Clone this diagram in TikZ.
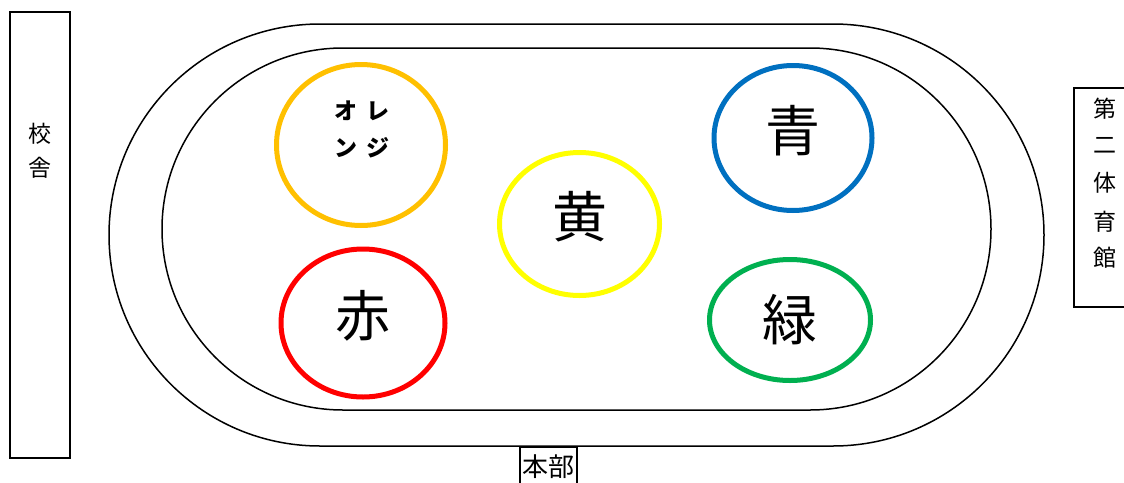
\documentclass[tikz,border=0pt]{standalone}
\usepackage{fontspec}
\newfontfamily\jp{Noto Sans CJK JP}
\usetikzlibrary{shapes.geometric}
\definecolor{cOrange}{HTML}{FFC000}
\definecolor{cYellow}{HTML}{FFFF00}
\definecolor{cBlue}{HTML}{0070C0}
\definecolor{cRed}{HTML}{FF0000}
\definecolor{cGreen}{HTML}{00B050}
\tikzset{
  track/.style={draw=black, line width=1.5pt},
  bldg/.style={draw=black, line width=1.6pt},
  team/.style={ellipse, draw, line width=5pt, inner sep=0pt},
  big/.style={font=\jp\fontsize{55}{55}\selectfont, inner sep=0pt},
  small/.style={font=\jp\fontsize{23}{23}\selectfont, inner sep=0pt},
  orangetxt/.style={font=\jp\bfseries\fontsize{23}{23}\selectfont, inner sep=0pt},
}
\begin{document}
\begin{tikzpicture}[x=1pt,y=-1pt]
\useasboundingbox (0,0) rectangle (1124,482);
\fill[white] (0,0) rectangle (1124,482);
% track
\draw[track, rounded corners=211pt] (109,24) rectangle (1044,446);
\draw[track, rounded corners=181pt] (162,48) rectangle (991,410);
% buildings
\draw[bldg] (10,12) rectangle (70,458);
\node[small] (k1) at (40,134) {校};
\node[small] (k2) at (40,168) {舎};
\draw[bldg] (1074,88) rectangle (1135,307);
\node[small] (g1) at (1105,109) {第};
\node[small] (g2) at (1105,145) {二};
\node[small] (g3) at (1105,183) {体};
\node[small] (g4) at (1105,222) {育};
\node[small] (g5) at (1105,258) {館};
\draw[bldg] (520,447) rectangle (577,495);
\node[font=\jp\fontsize{26}{26}\selectfont, inner sep=0pt] (hq) at (548.5,467) {本部};
% team circles
\node[team, draw=cOrange, minimum width=169pt, minimum height=161pt] (orange) at (361,145) {};
\node[team, draw=cYellow, minimum width=160pt, minimum height=143pt] (yellow) at (579.5,224) {};
\node[team, draw=cBlue, minimum width=158pt, minimum height=145pt] (blue) at (793,138) {};
\node[team, draw=cRed, minimum width=164pt, minimum height=148pt] (red) at (363,323) {};
\node[team, draw=cGreen, minimum width=161pt, minimum height=121pt] (green) at (790,320) {};
% labels
\node[orangetxt] (o1) at (346,111) {オ};
\node[orangetxt] (o2) at (378,111) {レ};
\node[orangetxt] (o3) at (346,148) {ン};
\node[orangetxt] (o4) at (378,148) {ジ};
\node[big] (ty) at (580,217) {黄};
\node[big] (tb) at (793,131) {青};
\node[big] (tr) at (363,316) {赤};
\node[big] (tg) at (790,320) {緑};
\end{tikzpicture}
\end{document}
